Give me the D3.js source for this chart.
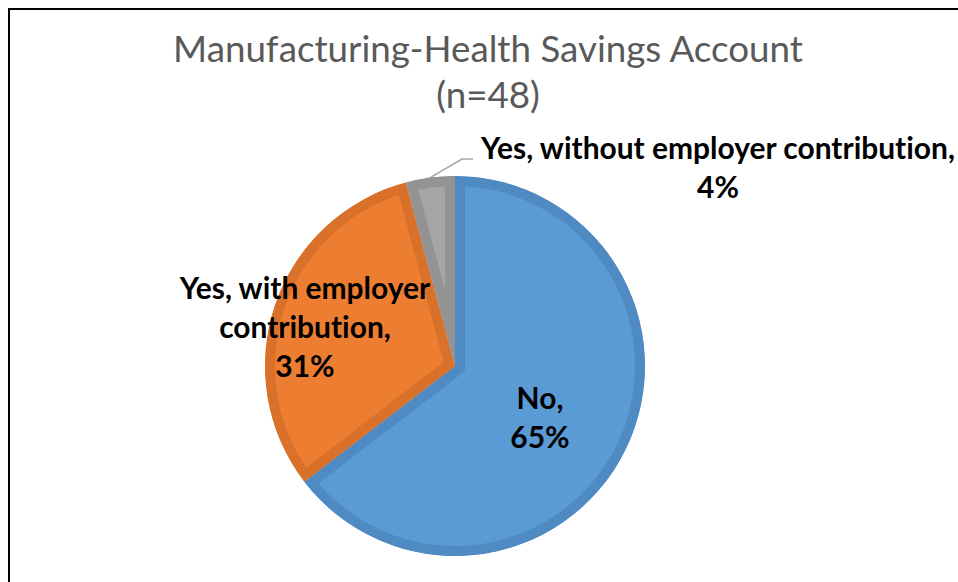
<!DOCTYPE html>
<html>
<head>
<meta charset="utf-8">
<script src="https://cdn.jsdelivr.net/npm/d3@7"></script>
<style>
  html, body { margin: 0; padding: 0; background: #fff; }
  svg { display: block; }
  text { font-variant-ligatures: none; font-feature-settings: "liga" 0, "clig" 0; }
</style>
</head>
<body>
<svg id="chart" width="958" height="582"></svg>
<script>
// data (n = 48 respondents)
const categories = ["No", "Yes, with employer contribution", "Yes, without employer contribution"];
const counts = [31, 15, 2];
const pctLabels = ["65%", "31%", "4%"];
const fills = ["#5B9BD5", "#ED7D31", "#A5A5A5"];
const borders = ["#4F8AC2", "#D9712B", "#939393"];
const titleLines = ["Manufacturing-Health Savings Account", "(n=48)"];

const W = 958, H = 582;
const cx = 455, cy = 366, R = 190, borderW = 10;
const font = "Lato, 'Open Sans', sans-serif";

const svg = d3.select("#chart");

// chart frame (only left/top visible in the crop)
svg.append("rect")
  .attr("x", 9).attr("y", 9)
  .attr("width", W + 40).attr("height", H + 40)
  .attr("fill", "#fff").attr("stroke", "#000").attr("stroke-width", 2);

// fit a text element's font size to a target width
function fitTo(sel, width) {
  sel.attr("font-size", 100);
  const w = sel.node().getComputedTextLength();
  sel.attr("font-size", 100 * width / w);
}

// title
const title = svg.append("g").attr("font-family", font).attr("fill", "#595959").attr("text-anchor", "middle");
const t1 = title.append("text").attr("x", 488).attr("y", 62).text(titleLines[0]);
fitTo(t1, 630);
const titleSize = +t1.attr("font-size");
title.append("text").attr("x", 488).attr("y", 108).attr("font-size", titleSize).text(titleLines[1]);

// pie
const pie = d3.pie().sort(null).value(d => d)(counts);
const arc = d3.arc().innerRadius(0).outerRadius(R);

const g = svg.append("g").attr("transform", `translate(${cx},${cy})`);
const defs = svg.append("defs");

pie.forEach((p, i) => {
  defs.append("clipPath").attr("id", "clip" + i)
    .append("path").attr("d", arc(p));
  g.append("path")
    .attr("d", arc(p))
    .attr("fill", fills[i])
    .attr("stroke", borders[i])
    .attr("stroke-width", borderW * 2)
    .attr("stroke-linejoin", "miter")
    .attr("clip-path", `url(#clip${i})`);
});

// data labels
const labelLayout = [
  { x: 540, y: 409, lines: ["No,", pctLabels[0]] },
  { x: 305, y: 299, lines: ["Yes, with employer", "contribution,", pctLabels[1]] },
  { x: 718, y: 159, lines: ["Yes, without employer contribution,", pctLabels[2]] }
];
const lh = 39;

const labels = svg.append("g").attr("font-family", font).attr("font-weight", "bold")
  .attr("fill", "#000").attr("text-anchor", "middle");

// size from the longest line
const probe = labels.append("text").text(labelLayout[2].lines[0]);
fitTo(probe, 474);
const labelSize = +probe.attr("font-size");
probe.remove();

labelLayout.forEach(l => {
  const t = labels.append("text").attr("font-size", labelSize);
  l.lines.forEach((s, k) => {
    t.append("tspan").attr("x", l.x).attr("y", l.y + k * lh).text(s);
  });
});

// leader line for the small slice
const small = pie[2];
const mid = (small.startAngle + small.endAngle) / 2;
const p0 = [cx + R * Math.sin(mid), cy - R * Math.cos(mid)];
svg.append("polyline")
  .attr("points", [p0, [462, 159], [473, 159]].map(p => p.join(",")).join(" "))
  .attr("fill", "none").attr("stroke", "#A6A6A6").attr("stroke-width", 1.5);
</script>
</body>
</html>
